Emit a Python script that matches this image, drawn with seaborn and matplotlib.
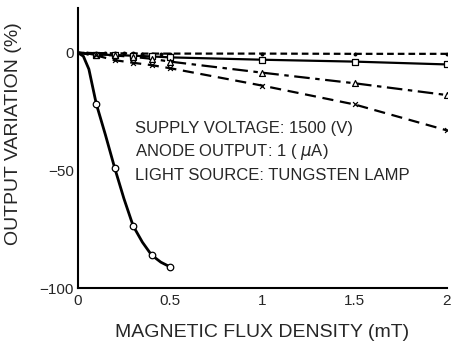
import numpy as np
import pandas as pd
import seaborn as sns
import matplotlib.pyplot as plt

sns.set_style("white")
plt.rcParams['font.family'] = ['Liberation Sans', 'DejaVu Sans']

# curve of the steep series
curve_x = [0, 0.03, 0.06, 0.1, 0.15, 0.2, 0.25, 0.3, 0.35, 0.4, 0.45, 0.5]
curve_y = [0, -1.5, -7, -21.7, -35, -49, -62, -73.6, -80.5, -86, -89, -91]
circle_x = [0.1, 0.2, 0.3, 0.4, 0.5]
circle_y = [-21.7, -49, -73.6, -86, -91]

dot_x = [0, 0.05, 0.1, 0.15, 0.2, 0.25, 0.3, 0.35, 0.4, 0.45, 0.5, 1, 1.5, 2]
dot_y = [0, -0.1, -0.2, -0.2, -0.3, -0.3, -0.3, -0.4, -0.4, -0.4, -0.4, -0.4, -0.5, -0.5]

sq_x = [0, 0.1, 0.2, 0.3, 0.4, 0.5, 1, 1.5, 2]
sq_y = [0, -0.8, -1.0, -1.3, -1.6, -2.0, -3.0, -3.8, -5.0]

tri_x = [0, 0.1, 0.2, 0.3, 0.4, 0.5, 1, 1.5, 2]
tri_y = [0, -0.8, -1.2, -1.8, -2.6, -3.8, -8.5, -13, -18]

cross_x = [0, 0.1, 0.2, 0.3, 0.4, 0.5, 1, 1.5, 2]
cross_y = [0, -1.2, -3.2, -4.3, -5.3, -6.6, -14, -22, -33]

fig = plt.figure(figsize=(4.55, 3.45), dpi=100)
ax = fig.add_axes([0.171, 0.165, 0.811, 0.812])

# lines
sns.lineplot(x=dot_x, y=dot_y, ax=ax, color='black', lw=1.6,
             linestyle=(0, (3, 1.8)))
sns.lineplot(x=sq_x, y=sq_y, ax=ax, color='black', lw=1.6)
sns.lineplot(x=tri_x, y=tri_y, ax=ax, color='black', lw=1.6,
             linestyle=(0, (7, 2.5, 2, 2.5)))
sns.lineplot(x=cross_x, y=cross_y, ax=ax, color='black', lw=1.6,
             linestyle=(0, (5, 3)))
sns.lineplot(x=curve_x, y=curve_y, ax=ax, color='black', lw=2.0)

# markers
sns.scatterplot(x=circle_x, y=circle_y, ax=ax, marker='o', s=22,
                facecolor='white', edgecolor='black', linewidth=0.9, zorder=5)
sns.scatterplot(x=dot_x[1:], y=dot_y[1:], ax=ax, marker='o', s=8,
                color='black', linewidth=0, zorder=5)
sns.scatterplot(x=sq_x[1:], y=sq_y[1:], ax=ax, marker='s', s=16,
                facecolor='white', edgecolor='black', linewidth=0.9, zorder=5)
sns.scatterplot(x=tri_x[1:], y=tri_y[1:], ax=ax, marker='^', s=18,
                facecolor='white', edgecolor='black', linewidth=0.9, zorder=5)
sns.scatterplot(x=cross_x[1:], y=cross_y[1:], ax=ax, marker='x', s=12,
                color='black', linewidth=0.9, zorder=5)

ax.set_xlim(0, 2)
ax.set_ylim(-100, 19)
ax.set_xticks([0, 0.5, 1, 1.5, 2])
ax.set_xticklabels(['0', '0.5', '1', '1.5', '2'], fontsize=11)
ax.set_yticks([0, -50, -100])
ax.set_yticklabels(['0', '\u221250', '\u2212100'], fontsize=11)
ax.tick_params(direction='in', length=4, width=0.8, color='black', pad=3)
ax.tick_params(axis='x', pad=4)

for side in ['top', 'right']:
    ax.spines[side].set_visible(False)
for side in ['left', 'bottom']:
    ax.spines[side].set_color('black')
    ax.spines[side].set_linewidth(1.5)

ax.set_xlabel('MAGNETIC FLUX DENSITY (mT)', fontsize=14, labelpad=12)
ax.set_ylabel('OUTPUT VARIATION (%)', fontsize=14, labelpad=6)
ax.yaxis.set_label_coords(-0.15, 0.55)

ax.text(0.31, -29, 'SUPPLY VOLTAGE: 1500 (V)\nANODE OUTPUT: 1 ( $\\mu$A)\nLIGHT SOURCE: TUNGSTEN LAMP',
        fontsize=12, va='top', ha='left', linespacing=1.45)

fig.savefig('out.png', dpi=100)
